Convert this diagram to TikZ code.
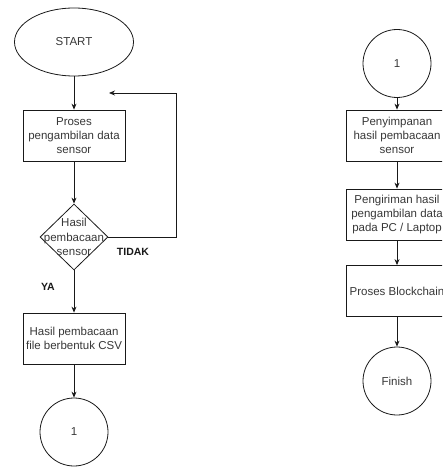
\documentclass[tikz,border=0pt]{standalone}
\usepackage{fontspec}
\setmainfont{Liberation Sans}
\usepackage{tikz}
\usetikzlibrary{positioning,arrows.meta,shapes.geometric}
\definecolor{flowline}{RGB}{25,25,25}
\definecolor{flowtext}{RGB}{55,55,55}

\begin{document}
\begin{tikzpicture}[x=1pt, y=-1pt, process/.style={draw=flowline, line width=0.8pt, minimum width=102pt, minimum height=51pt, inner sep=1pt, align=center, text=flowtext, font=\fontsize{11.5}{14.3}\selectfont}, terminal/.style={draw=flowline, line width=0.8pt, ellipse, minimum width=119pt, minimum height=68pt, text=flowtext, font=\fontsize{11.5}{14.3}\selectfont}, connector/.style={draw=flowline, line width=0.8pt, circle, minimum size=68pt, inner sep=0pt, text=flowtext, font=\fontsize{11.5}{14.3}\selectfont}, decision/.style={draw=flowline, line width=0.8pt, diamond, minimum width=68pt, minimum height=66pt, inner sep=0pt}, flowlabel/.style={align=center, text=flowtext, font=\fontsize{11.5}{14.3}\selectfont}, answer/.style={text=flowline, font=\fontsize{10.5}{12}\selectfont\bfseries}, arrow/.style={-{Stealth[length=6pt,width=5pt]}, draw=flowline, line width=0.8pt}]
\useasboundingbox (0,0) rectangle (442,468);
\clip (0,0) rectangle (442,468);
% left column
\node[terminal] (start) at (74,42) {START};
\node[process] (proses) at (74,135.5) {Proses\\pengambilan data\\sensor};
\draw[arrow] (start) -- (proses);
\node[decision] (hasil) at (74,237) {};
\node[flowlabel] (hasiltxt) at (74,237) {Hasil\\pembacaan\\sensor};
\draw[arrow] (proses) -- (hasil);
\coordinate (loopend) at (109,93);
\draw[arrow] (hasil.east) -- (176,237) |- (loopend);
\node[answer] (tidak) at (133,252) {TIDAK};
\node[answer] (ya) at (48,287) {YA};
\node[process] (csv) at (74,338.5) {Hasil pembacaan\\file berbentuk CSV};
\draw[arrow] (hasil) -- (csv);
\node[connector] (conA) at (74,432) {1};
\draw[arrow] (csv) -- (conA);
% right column
\node[connector] (conB) at (397,63.5) {1};
\node[process] (simpan) at (397,135.5) {Penyimpanan\\hasil pembacaan\\sensor};
\draw[arrow] (conB) -- (simpan);
\node[process] (kirim) at (397,214.5) {Pengiriman hasil\\pengambilan data\\pada PC / Laptop};
\draw[arrow] (simpan) -- (kirim);
\node[process] (chain) at (397,291) {Proses Blockchain};
\draw[arrow] (kirim) -- (chain);
\node[connector] (finish) at (397,381) {Finish};
\draw[arrow] (chain) -- (finish);
\end{tikzpicture}
\end{document}
